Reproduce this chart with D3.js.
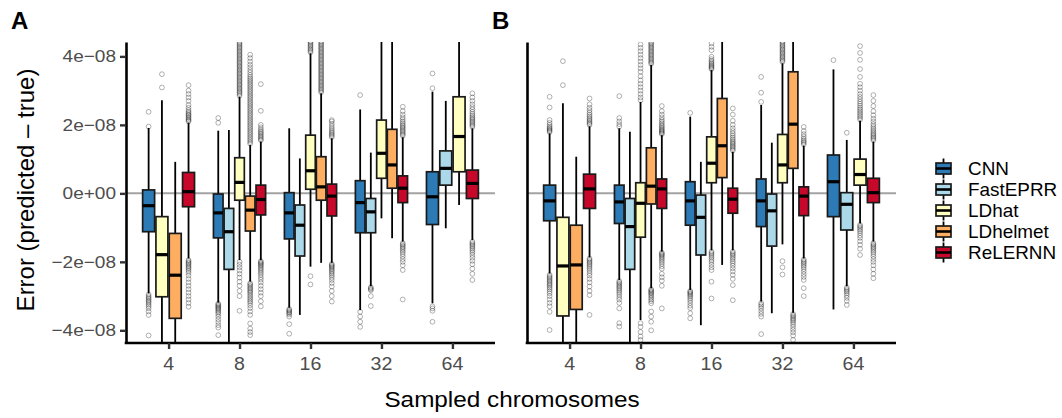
<!DOCTYPE html>
<html>
<head>
<meta charset="utf-8">
<script src="https://cdn.jsdelivr.net/npm/d3@7"></script>
<style>
body{margin:0;background:#fff;}
svg{font-family:"Liberation Sans",Arial,sans-serif;}
</style>
</head>
<body>
<div id="chart"></div>
<script>
// values are in units of 1e-08
const sizes = ["4", "8", "16", "32", "64"];
const methods = ["CNN", "FastEPRR", "LDhat", "LDhelmet", "ReLERNN"];
const methodColors = ["#2c7bb6", "#abd9e9", "#ffffbf", "#fdae61", "#c8082a"];
const yTicks = [-4, -2, 0, 2, 4];
const yTickLabels = ["\u22124e\u221208", "\u22122e\u221208", "0e+00", "2e\u221208", "4e\u221208"];

// [size, method, lower whisker, q1, median, q3, upper whisker]
const boxesA = [
  ["4", "CNN", -2.92, -1.12, -0.36, 0.10, 1.91],
  ["4", "LDhat", -5.0, -3.02, -1.79, -0.68, 2.72],
  ["4", "LDhelmet", -5.0, -3.65, -2.39, -1.17, 0.92],
  ["4", "ReLERNN", -1.90, -0.39, 0.05, 0.61, 2.06],
  ["8", "CNN", -3.19, -1.30, -0.57, -0.02, 1.83],
  ["8", "FastEPRR", -5.0, -2.22, -1.12, -0.44, 1.85],
  ["8", "LDhat", -1.95, -0.20, 0.32, 1.04, 2.82],
  ["8", "LDhelmet", -2.58, -1.10, -0.49, -0.08, 1.41],
  ["8", "ReLERNN", -1.95, -0.63, -0.18, 0.24, 1.51],
  ["16", "CNN", -3.34, -1.33, -0.57, 0.02, 1.90],
  ["16", "FastEPRR", -3.55, -1.83, -0.93, -0.34, 1.02],
  ["16", "LDhat", -2.14, 0.12, 0.66, 1.70, 4.09],
  ["16", "LDhelmet", -2.03, -0.20, 0.19, 1.07, 2.92],
  ["16", "ReLERNN", -2.03, -0.66, -0.08, 0.27, 1.61],
  ["32", "CNN", -3.41, -1.15, -0.27, 0.37, 2.45],
  ["32", "FastEPRR", -2.71, -1.15, -0.54, -0.15, 1.19],
  ["32", "LDhat", -0.73, 0.44, 1.17, 2.14, 5.0],
  ["32", "LDhelmet", -1.31, 0.15, 0.83, 1.87, 5.0],
  ["32", "ReLERNN", -1.41, -0.27, 0.15, 0.51, 1.64],
  ["64", "CNN", -3.21, -0.91, -0.10, 0.63, 2.97],
  ["64", "FastEPRR", -1.02, 0.24, 0.73, 1.24, 2.70],
  ["64", "LDhat", -0.34, 0.63, 1.66, 2.82, 5.0],
  ["64", "ReLERNN", -1.36, -0.15, 0.29, 0.68, 1.90]
];

const boxesB = [
  ["4", "CNN", -2.34, -0.80, -0.22, 0.24, 1.75],
  ["4", "LDhat", -5.0, -3.58, -2.12, -0.70, 2.63],
  ["4", "LDhelmet", -5.0, -3.39, -2.09, -0.93, 1.07],
  ["4", "ReLERNN", -1.87, -0.44, 0.13, 0.56, 1.96],
  ["8", "CNN", -2.53, -0.88, -0.25, 0.24, 1.90],
  ["8", "FastEPRR", -5.0, -2.22, -0.97, -0.15, 1.80],
  ["8", "LDhat", -3.70, -1.28, -0.29, 0.31, 2.67],
  ["8", "LDhelmet", -2.77, -0.31, 0.21, 1.33, 3.75],
  ["8", "ReLERNN", -1.70, -0.44, 0.13, 0.42, 1.70],
  ["16", "CNN", -2.82, -0.93, -0.22, 0.34, 2.24],
  ["16", "FastEPRR", -3.85, -1.80, -0.70, -0.05, 0.92],
  ["16", "LDhat", -1.66, 0.31, 0.88, 1.65, 3.60],
  ["16", "LDhelmet", -2.09, 0.46, 1.39, 2.77, 5.0],
  ["16", "ReLERNN", -1.66, -0.58, -0.17, 0.15, 1.21],
  ["32", "CNN", -3.16, -0.97, -0.22, 0.42, 2.58],
  ["32", "FastEPRR", -3.50, -1.54, -0.51, -0.02, 1.48],
  ["32", "LDhat", -1.49, 0.31, 0.83, 1.72, 3.80],
  ["32", "LDhelmet", -3.49, 0.73, 2.02, 3.55, 5.0],
  ["32", "ReLERNN", -1.90, -0.65, -0.08, 0.19, 1.39],
  ["64", "CNN", -3.39, -0.68, 0.34, 1.12, 3.62],
  ["64", "FastEPRR", -2.71, -1.07, -0.32, 0.02, 1.56],
  ["64", "LDhat", -0.88, 0.24, 0.55, 1.00, 2.12],
  ["64", "ReLERNN", -1.41, -0.27, 0.02, 0.44, 1.51]
];

// [size, method, outlier values]
const outliersA = [
  ["4", "CNN", [1.95, 2.38, -2.95, -3.0, -3.04, -3.08, -3.12, -3.16, -3.2, -3.25, -3.3, -3.36, -3.45, -3.55, -4.15]],
  ["4", "LDhat", [3.09, 3.48]],
  ["4", "ReLERNN", [2.1, 2.13, 2.16, 2.2, 2.23, 2.27, 2.3, 2.34, 2.38, 2.43, 2.5, 2.58, 2.7, 2.8, 2.9, 3.0, 3.16,
    -1.95, -1.98, -2.02, -2.05, -2.09, -2.13, -2.17, -2.21, -2.26, -2.32, -2.4, -2.5, -2.6, -2.7, -2.8, -2.9, -3.0, -3.1, -3.2, -3.31]],
  ["8", "CNN", [2.06, 2.2, -3.22, -3.25, -3.28, -3.31, -3.34, -3.37, -3.4, -3.44, -3.48, -3.53, -3.6, -3.68, -3.76, -3.85, -3.92, -4.14]],
  ["8", "LDhat", [2.85, 2.9, 2.94, 2.98, 3.02, 3.06, 3.1, 3.14, 3.18, 3.22, 3.26, 3.3, 3.34, 3.38, 3.42, 3.46, 3.5, 3.54, 3.58, 3.62,
    3.66, 3.7, 3.74, 3.78, 3.82, 3.86, 3.9, 3.94, 3.98, 4.02, 4.06, 4.1, 4.14, 4.18, 4.22, 4.26, 4.3, 4.34, 4.38, 4.42,
    -2.0, -2.08, -2.16, -2.25, -2.35, -2.46, -2.58, -2.7, -2.85, -3.0, -3.43]],
  ["8", "LDhelmet", [1.45, 1.5, 1.55, 1.6, 1.65, 1.7, 1.75, 1.8, 1.85, 1.9, 1.95, 2.0, 2.05, 2.1, 2.15, 2.2, 2.25, 2.3, 2.35, 2.4,
    2.45, 2.5, 2.55, 2.6, 2.65, 2.7, 2.75, 2.8, 2.85, 2.9, 2.95, 3.0, 3.05, 3.1, 3.15, 3.2, 3.25, 3.3, 3.35, 3.4,
    3.46, 3.53, 3.6, 3.68, 3.76, 3.85, 3.95, 4.05,
    -2.62, -2.66, -2.7, -2.74, -2.78, -2.82, -2.86, -2.9, -2.95, -3.0, -3.05, -3.1, -3.15, -3.2, -3.27, -3.35, -3.45, -3.55, -3.8, -3.95, -4.05, -4.14]],
  ["8", "ReLERNN", [1.55, 1.58, 1.62, 1.66, 1.7, 1.74, 1.78, 1.82, 1.87, 1.93, 2.0, 2.41, 3.19,
    -1.98, -2.01, -2.04, -2.07, -2.1, -2.14, -2.18, -2.22, -2.27, -2.32, -2.38, -2.45, -2.52, -2.6, -2.7, -2.8, -2.9, -3.0, -3.15, -3.3]],
  ["16", "CNN", [-3.38, -3.41, -3.44, -3.47, -3.5, -3.54, -3.6, -3.82, -4.1]],
  ["16", "LDhat", [4.12, 4.16, 4.2, 4.24, 4.28, 4.32, 4.36, 4.4, 4.44, -2.42, -2.66]],
  ["16", "LDhelmet", [2.95, 2.99, 3.03, 3.07, 3.11, 3.15, 3.19, 3.23, 3.27, 3.31, 3.35, 3.39, 3.43, 3.47, 3.51, 3.55, 3.59, 3.63, 3.67,
    3.71, 3.75, 3.79, 3.83, 3.87, 3.91, 3.95, 3.99, 4.03, 4.07, 4.11, 4.15, 4.19, 4.23, 4.27, 4.31, 4.35, 4.39, 4.43]],
  ["16", "ReLERNN", [1.64, 1.68, 1.72, 1.76, 1.8, 1.85, 1.9, 1.96, 2.03, 2.1, 2.14,
    -2.06, -2.09, -2.12, -2.15, -2.18, -2.22, -2.26, -2.3, -2.35, -2.4, -2.46, -2.53, -2.62, -2.72, -2.85, -3.0, -3.16]],
  ["32", "CNN", [2.87, -3.46, -3.6, -3.75, -3.9]],
  ["32", "FastEPRR", [-2.74, -2.77, -2.8, -2.83, -3.0, -3.29]],
  ["32", "ReLERNN", [1.68, 1.72, 1.76, 1.8, 1.84, 1.88, 1.92, 1.96, 2.0, 2.05, 2.1, 2.16, 2.22, 2.3, 2.4, 2.53,
    -1.45, -1.49, -1.53, -1.57, -1.61, -1.66, -1.71, -1.77, -1.84, -1.92, -2.0, -2.1, -2.24, -3.1]],
  ["64", "CNN", [3.07, 3.5, -3.3, -3.36, -3.43, -3.75]],
  ["64", "ReLERNN", [1.94, 1.98, 2.02, 2.06, 2.1, 2.14, 2.18, 2.22, 2.27, 2.32, 2.38, 2.45, 2.52, 2.6, 2.7, 2.8, 2.92,
    -1.41, -1.45, -1.49, -1.53, -1.57, -1.62, -1.67, -1.73, -1.8, -1.88, -1.97, -2.07, -2.2, -2.35, -2.53]]
];

const outliersB = [
  ["4", "CNN", [1.79, 1.82, 1.85, 1.88, 1.91, 1.95, 2.0, 2.06, 2.14, 2.51, 2.82,
    -2.38, -2.42, -2.46, -2.5, -2.54, -2.58, -2.62, -2.66, -2.7, -2.75, -2.8, -2.86, -2.92, -3.0, -3.1, -3.2, -3.3, -3.46, -3.99]],
  ["4", "LDhat", [3.16, 3.86]],
  ["4", "ReLERNN", [2.0, 2.04, 2.08, 2.12, 2.16, 2.2, 2.25, 2.3, 2.36, 2.43, 2.5, 2.6, 2.77,
    -1.9, -1.94, -1.98, -2.02, -2.06, -2.1, -2.15, -2.2, -2.26, -2.33, -2.4, -2.5, -2.6, -2.72, -2.85, -2.97, -3.55]],
  ["8", "CNN", [1.95, 2.02, 2.1, 2.2, 2.84,
    -2.56, -2.6, -2.64, -2.68, -2.72, -2.76, -2.8, -2.85, -2.9, -2.96, -3.03, -3.1, -3.2, -3.36, -3.79, -3.89]],
  ["8", "LDhat", [2.72, 2.8, 2.9, 3.0, 3.1, 3.2, 3.3, 3.42, 3.55, 3.65, 3.75, 3.85, 3.95, 4.05, 4.15, 4.25, 4.35,
    -3.79, -3.9, -4.05, -4.18, -4.28]],
  ["8", "LDhelmet", [3.78, 3.82, 3.86, 3.9, 3.94, 3.98, 4.02, 4.06, 4.1, 4.14, 4.18, 4.22, 4.26, 4.3, 4.34, 4.38, 4.42,
    -2.8, -2.83, -2.86, -2.89, -2.92, -2.96, -3.0, -3.05, -3.1, -3.15, -3.21, -3.45, -3.6, -3.75, -4.0]],
  ["8", "ReLERNN", [1.73, 1.76, 1.79, 1.82, 1.85, 1.88, 1.92, 1.96, 2.0, 2.05, 2.1, 2.15, 2.22, 2.3, 2.4, 2.55,
    -1.73, -1.76, -1.79, -1.82, -1.86, -1.9, -1.95, -2.0, -2.06, -2.13, -2.2, -2.35, -2.45, -2.55, -2.7, -3.36]],
  ["16", "CNN", [2.35, -2.85, -2.88, -2.91, -2.94, -2.98, -3.02, -3.07, -3.13, -3.2, -3.28, -3.35, -3.5, -3.65]],
  ["16", "LDhat", [3.63, 3.66, 3.69, 3.72, 3.75, 3.79, 3.83, 3.87, 3.92, 3.99, 4.18, 4.28, 4.38,
    -1.7, -1.74, -1.78, -1.83, -1.88, -1.94, -2.0, -2.08, -2.16, -2.24, -2.58, -3.07]],
  ["16", "ReLERNN", [1.25, 1.29, 1.33, 1.37, 1.41, 1.45, 1.49, 1.53, 1.58, 1.63, 1.69, 1.75, 1.82, 1.9, 2.0, 2.12, 2.3, 2.48,
    -1.7, -1.74, -1.78, -1.82, -1.87, -1.92, -1.98, -2.04, -2.11, -2.19, -2.28, -2.38, -2.5, -2.68, -3.12]],
  ["32", "CNN", [2.67, 2.94, 3.4, -3.2, -3.25, -3.3, -3.36, -3.44, -3.52, -3.6, -4.11]],
  ["32", "LDhat", [3.84, 3.88, 3.92, 3.96, 4.0, 4.04, 4.08, 4.12, 4.16, 4.2, 4.24, 4.28, 4.32, 4.36, 4.4, 4.44, -1.98, -2.16, -2.37]],
  ["32", "LDhelmet", [-3.52, -3.56, -3.6, -3.64, -3.68, -3.72, -3.77, -3.83, -3.9, -3.98, -4.06, -4.15, -4.28]],
  ["32", "ReLERNN", [1.43, 1.47, 1.51, 1.55, 1.6, 1.66, 1.73, 1.82, 1.94,
    -1.93, -1.97, -2.01, -2.05, -2.1, -2.15, -2.21, -2.28, -2.36, -2.44, -2.53, -2.77, -3.0]],
  ["64", "CNN", [3.89]],
  ["64", "FastEPRR", [1.77, -2.75, -2.79, -2.83, -2.87, -2.92, -2.98, -3.05, -3.14, -3.26]],
  ["64", "LDhat", [2.15, 2.2, 2.25, 2.3, 2.35, 2.4, 2.45, 2.5, 2.56, 2.62, 2.68, 2.75, 2.82, 2.9, 3.0, 3.1, 3.2, 3.4, 3.63, 3.9, 4.1, 4.3,
    -0.92, -0.96, -1.0, -1.05, -1.1, -1.16, -1.23, -1.3, -1.4, -1.5, -1.62, -1.8]],
  ["64", "ReLERNN", [1.55, 1.59, 1.63, 1.67, 1.71, 1.75, 1.8, 1.85, 1.9, 1.96, 2.02, 2.1, 2.18, 2.28, 2.4, 2.55, 2.7, 2.87,
    -1.45, -1.49, -1.53, -1.57, -1.61, -1.66, -1.71, -1.77, -1.84, -1.92, -2.0, -2.1, -2.22, -2.35, -2.48]]
];

//layout
const width = 1062, height = 418;
const plotTop = 42, plotBottom = 343;
const panels = [
  {id: "A", x0: 126, x1: 495, boxes: boxesA, outliers: outliersA, yLabels: true},
  {id: "B", x0: 527, x1: 896, boxes: boxesB, outliers: outliersB, yLabels: false}
];
const tickColor = "#4d4d4d";
const stretch = 1.12; // text in the reference is a bit wider than plain Helvetica

const color = d3.scaleOrdinal().domain(methods).range(methodColors);
const y = d3.scaleLinear().domain([-4.37, 4.42]).range([plotBottom, plotTop]);

const svg = d3.select("#chart").append("svg")
  .attr("width", width)
  .attr("height", height);

function stretchedText(g, x, yPos, txt, size, anchor, sx){
  return g.append("g")
    .attr("transform", "translate(" + x + "," + yPos + ") scale(" + sx + ",1)")
    .append("text")
    .attr("text-anchor", anchor)
    .style("font-size", size + "px")
    .text(txt);
}

function drawPanel(p, idx){
  let g = svg.append("g");
  let x = d3.scalePoint().domain(sizes).range([p.x0, p.x1]).padding(0.6);
  let groupW = x.step() * 0.75;

  //clip for whiskers and outliers that run off the panel
  svg.append("clipPath").attr("id", "clip" + p.id)
    .append("rect")
    .attr("x", p.x0).attr("y", plotTop)
    .attr("width", p.x1 - p.x0).attr("height", plotBottom - plotTop);

  let plot = g.append("g").attr("clip-path", "url(#clip" + p.id + ")");

  //zero reference line
  plot.append("line")
    .attr("x1", p.x0).attr("x2", p.x1)
    .attr("y1", y(0)).attr("y2", y(0))
    .attr("stroke", "#a3a3a3")
    .attr("stroke-width", 2);

  //dodge boxes inside each size group
  let boxes = p.boxes.map(function(b){
    let inGroup = p.boxes.filter(function(o){ return o[0] === b[0]; });
    let k = inGroup.length;
    let j = inGroup.indexOf(b);
    let slot = groupW / k;
    return {size: b[0], method: b[1], lo: b[2], q1: b[3], med: b[4], q3: b[5], hi: b[6],
      cx: x(b[0]) - groupW / 2 + slot * (j + 0.5), w: slot * 0.9};
  });
  let centerOf = {};
  boxes.forEach(function(b){ centerOf[b.size + "|" + b.method] = b.cx; });

  //outliers
  let pts = [];
  p.outliers.forEach(function(o){
    o[2].forEach(function(v){ pts.push({cx: centerOf[o[0] + "|" + o[1]], v: v}); });
  });
  plot.append("g").selectAll("circle")
    .data(pts)
    .enter().append("circle")
      .attr("cx", function(d){ return d.cx; })
      .attr("cy", function(d){ return y(d.v); })
      .attr("r", 2.4)
      .attr("fill", "none")
      .attr("stroke", "#000")
      .attr("stroke-opacity", 0.3)
      .attr("stroke-width", 1);

  let bg = plot.append("g").selectAll("g")
    .data(boxes)
    .enter().append("g");

  //whiskers
  bg.append("line")
    .attr("x1", function(d){ return d.cx; }).attr("x2", function(d){ return d.cx; })
    .attr("y1", function(d){ return y(d.hi); }).attr("y2", function(d){ return y(d.q3); })
    .attr("stroke", "#000").attr("stroke-width", 1.8);
  bg.append("line")
    .attr("x1", function(d){ return d.cx; }).attr("x2", function(d){ return d.cx; })
    .attr("y1", function(d){ return y(d.q1); }).attr("y2", function(d){ return y(d.lo); })
    .attr("stroke", "#000").attr("stroke-width", 1.8);

  //box
  bg.append("rect")
    .attr("x", function(d){ return d.cx - d.w / 2; })
    .attr("y", function(d){ return y(d.q3); })
    .attr("width", function(d){ return d.w; })
    .attr("height", function(d){ return y(d.q1) - y(d.q3); })
    .attr("fill", function(d){ return color(d.method); })
    .attr("stroke", "#1a1a1a")
    .attr("stroke-width", 1.7);

  //median
  bg.append("line")
    .attr("x1", function(d){ return d.cx - d.w / 2; }).attr("x2", function(d){ return d.cx + d.w / 2; })
    .attr("y1", function(d){ return y(d.med); }).attr("y2", function(d){ return y(d.med); })
    .attr("stroke", "#000").attr("stroke-width", 3.2);

  //axes
  let yAxis = g.append("g")
    .attr("transform", "translate(" + p.x0 + ",0)")
    .call(d3.axisLeft(y).tickValues(p.yLabels ? yTicks : []).tickSize(p.yLabels ? 6 : 0).tickFormat("").tickSizeOuter(0));
  yAxis.select(".domain").attr("stroke", "#000").attr("stroke-width", 2.6);
  yAxis.selectAll(".tick line").attr("stroke", "#333").attr("stroke-width", 2.4);
  if (p.yLabels){
    yTicks.forEach(function(t, i){
      stretchedText(g, p.x0 - 10, y(t) + 6, yTickLabels[i], 17, "end", stretch)
        .attr("fill", tickColor);
    });
  }

  let xAxis = g.append("g")
    .attr("transform", "translate(0," + plotBottom + ")")
    .call(d3.axisBottom(x).tickSize(6).tickFormat("").tickSizeOuter(0));
  xAxis.select(".domain").attr("stroke", "#000").attr("stroke-width", 2.6)
    .attr("d", "M" + (p.x0 - 1.3) + ",0H" + p.x1);
  xAxis.selectAll(".tick line").attr("stroke", "#333").attr("stroke-width", 2.4);
  sizes.forEach(function(s){
    stretchedText(g, x(s), 370, s, 17.5, "middle", stretch).attr("fill", tickColor);
  });

  //panel tag
  svg.append("text")
    .attr("x", idx === 0 ? 11 : 492)
    .attr("y", 29)
    .style("font-size", "24px")
    .style("font-weight", "bold")
    .text(p.id);
}

panels.forEach(drawPanel);

//axis titles
svg.append("text")
  .attr("transform", "translate(34,190) rotate(-90)")
  .attr("text-anchor", "middle")
  .style("font-size", "24px")
  .text("Error (predicted \u2013 true)");
stretchedText(svg, 512, 407, "Sampled chromosomes", 21.5, "middle", 1.13);

//legend
let legend = svg.append("g").attr("transform", "translate(935,168.5)");
let items = legend.selectAll("g")
  .data(methods)
  .enter().append("g")
    .attr("transform", function(d, i){ return "translate(0," + (i * 21) + ")"; });
items.append("line")
  .attr("x1", 8.5).attr("x2", 8.5).attr("y1", -10).attr("y2", 10)
  .attr("stroke", "#000").attr("stroke-width", 1.8);
items.append("rect")
  .attr("x", 1).attr("y", -5.5).attr("width", 15).attr("height", 11)
  .attr("fill", function(d){ return color(d); })
  .attr("stroke", "#1a1a1a").attr("stroke-width", 1.7);
items.append("line")
  .attr("x1", 1).attr("x2", 16).attr("y1", 0).attr("y2", 0)
  .attr("stroke", "#000").attr("stroke-width", 2.6);
items.each(function(d){
  stretchedText(d3.select(this), 33, 6.5, d, 18, "start", 1.05);
});
</script>
</body>
</html>
